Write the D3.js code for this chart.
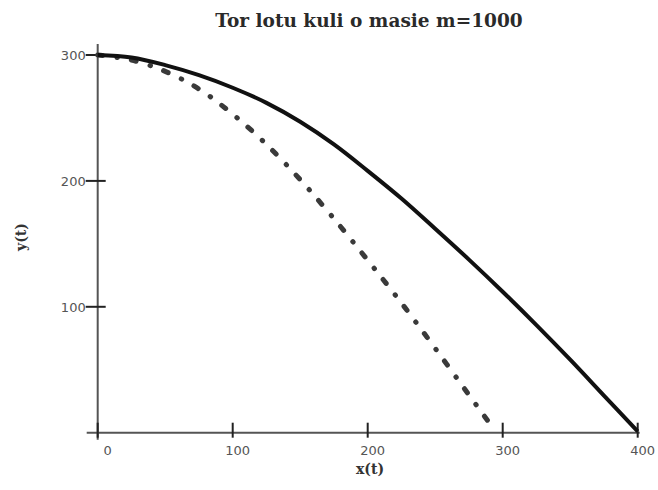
<!DOCTYPE html>
<html>
<head>
<meta charset="utf-8">
<script src="https://cdn.jsdelivr.net/npm/d3@7"></script>
<style>
  body { margin: 0; background: #fff; }
  svg { display: block; }
</style>
</head>
<body>
<div class="chart"></div>
<script>
// values
const xTicks = [0, 100, 200, 300, 400];
const yTicks = [100, 200, 300];

// solid curve
const solidX = [0, 25, 50, 75, 100, 125, 150, 175, 200, 225, 250, 275, 300, 325, 350, 375, 400];
const solidY = [300, 298, 292, 284, 274, 262, 247, 229, 208, 186, 162, 137.5, 112, 85.5, 58, 29.5, 1];

// dash-dot curve
const dotX = [0, 25, 50, 75, 100, 125, 150, 175, 200, 225, 250, 275, 292];
const dotY = [300, 296, 287, 273, 253, 229, 201, 170, 137, 103, 67, 30, 5];

const W = 658, H = 490;

const svg = d3.select(".chart")
  .append("svg")
    .attr("width", W)
    .attr("height", H);

const x = d3.scaleLinear().domain([0, 400]).range([97.7, 637.7]);
const y = d3.scaleLinear().domain([0, 300]).range([432.7, 55]);

// title
svg.append("text")
    .attr("x", 369)
    .attr("y", 27)
    .attr("text-anchor", "middle")
    .style("font-family", "'DejaVu Serif', serif")
    .style("font-weight", "bold")
    .style("font-size", "18.5px")
    .attr("fill", "#2a2a2a")
    .text("Tor lotu kuli o masie m=1000");

// axes lines
const axisColor = "#555";
svg.append("line")
    .attr("x1", x(0) - 11).attr("x2", x(400) + 2)
    .attr("y1", y(0)).attr("y2", y(0))
    .attr("stroke", axisColor).attr("stroke-width", 2);
svg.append("line")
    .attr("x1", x(0)).attr("x2", x(0))
    .attr("y1", y(0) + 7).attr("y2", y(308.7))
    .attr("stroke", axisColor).attr("stroke-width", 2);

// x ticks
svg.selectAll(".xtick")
  .data(xTicks)
  .join("line")
    .attr("class", "xtick")
    .attr("x1", d => x(d)).attr("x2", d => x(d))
    .attr("y1", y(0) - 10).attr("y2", y(0) + 5)
    .attr("stroke", "#222").attr("stroke-width", 2);

svg.selectAll(".xlabel")
  .data(xTicks)
  .join("text")
    .attr("class", "xlabel")
    .attr("x", d => x(d) + (d === 0 ? 10 : 5))
    .attr("y", y(0) + 22)
    .attr("text-anchor", "middle")
    .style("font-family", "'DejaVu Sans', sans-serif")
    .style("font-size", "13px")
    .attr("fill", "#555")
    .text(d => d);

// y ticks
svg.selectAll(".ytick")
  .data(yTicks)
  .join("line")
    .attr("class", "ytick")
    .attr("x1", x(0) - 12).attr("x2", x(0) + 8)
    .attr("y1", d => y(d)).attr("y2", d => y(d))
    .attr("stroke", "#222").attr("stroke-width", 2);

svg.selectAll(".ylabel")
  .data(yTicks)
  .join("text")
    .attr("class", "ylabel")
    .attr("x", x(0) - 12)
    .attr("y", d => y(d) + 5)
    .attr("text-anchor", "end")
    .style("font-family", "'DejaVu Sans', sans-serif")
    .style("font-size", "13px")
    .attr("fill", "#555")
    .text(d => d);

// axis titles
svg.append("text")
    .attr("x", 370)
    .attr("y", 474)
    .attr("text-anchor", "middle")
    .style("font-family", "'DejaVu Serif', serif")
    .style("font-weight", "bold")
    .style("font-size", "14px")
    .attr("fill", "#333")
    .text("x(t)");

svg.append("text")
    .attr("transform", "translate(26,237) rotate(-90)")
    .attr("text-anchor", "middle")
    .style("font-family", "'DejaVu Serif', serif")
    .style("font-weight", "bold")
    .style("font-size", "14px")
    .attr("fill", "#333")
    .text("y(t)");

const line = d3.line()
    .x(d => x(d[0]))
    .y(d => y(d[1]))
    .curve(d3.curveCatmullRom);

// dash-dot curve
svg.append("path")
    .datum(d3.zip(dotX, dotY))
    .attr("fill", "none")
    .attr("stroke", "#3a3a3a")
    .attr("stroke-width", 5)
    .attr("stroke-linecap", "round")
    .attr("stroke-dasharray", "5,14.5,0.5,14")
    .attr("d", line);

// solid curve
svg.append("path")
    .datum(d3.zip(solidX, solidY))
    .attr("fill", "none")
    .attr("stroke", "#111")
    .attr("stroke-width", 4)
    .attr("stroke-linejoin", "round")
    .attr("d", line);
</script>
</body>
</html>
